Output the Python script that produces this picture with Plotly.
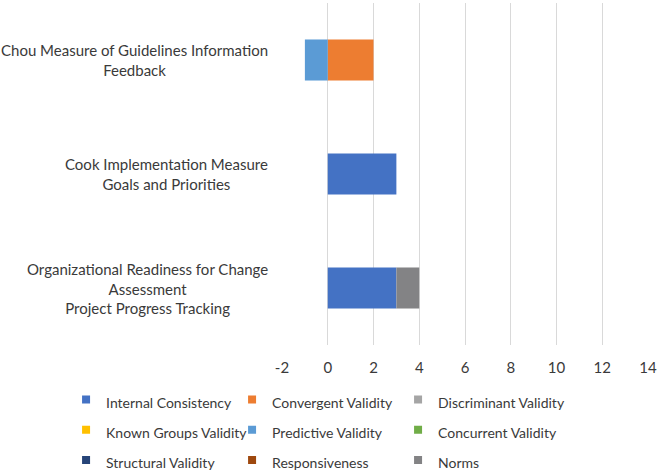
import plotly.graph_objects as go

categories = [
    "Chou Measure of Guidelines Information<br>Feedback",
    "Cook Implementation Measure<br>Goals and Priorities",
    "Organizational Readiness for Change<br>Assessment<br>Project Progress Tracking",
]
series_names = [
    "Internal Consistency", "Convergent Validity", "Discriminant Validity",
    "Known Groups Validity", "Predictive Validity", "Concurrent Validity",
    "Structural Validity", "Responsiveness", "Norms",
]
# values per series, in category order (Chou, Cook, ORCA)
internal_consistency = [0, 3, 3]
convergent_validity = [2, 0, 0]
discriminant_validity = [0, 0, 0]
known_groups_validity = [0, 0, 0]
predictive_validity = [-1, 0, 0]
concurrent_validity = [0, 0, 0]
structural_validity = [0, 0, 0]
responsiveness = [0, 0, 0]
norms = [0, 0, 1]
series_values = [
    internal_consistency, convergent_validity, discriminant_validity,
    known_groups_validity, predictive_validity, concurrent_validity,
    structural_validity, responsiveness, norms,
]
colors = ["#4472C4", "#ED7D31", "#A5A5A5", "#FFC000", "#5B9BD5",
          "#70AD47", "#264478", "#9E480E", "#838385"]
x_ticks = [-2, 0, 2, 4, 6, 8, 10, 12, 14]

FONT = "Lato"
TXT = "#3A3A3A"
fig = go.Figure()
for name, vals, col in zip(series_names, series_values, colors):
    fig.add_trace(go.Bar(
        y=categories, x=vals, name=name, orientation="h",
        marker=dict(color=col, line=dict(width=0)),
        legendgroup=name, showlegend=False,
    ))
# legend entries (small square keys)
for name, col in zip(series_names, colors):
    fig.add_trace(go.Scatter(
        x=[None], y=[None], mode="markers", legendgroup=name,
        name=f'<span style="font-size:14px">{name}</span>',
        marker=dict(symbol="square", size=8, color=col, line=dict(width=0)),
        showlegend=True, hoverinfo="skip",
    ))

for cat in categories:
    fig.add_annotation(
        x=0, xref="paper", xshift=-12, y=cat, yref="y",
        text=cat, showarrow=False, xanchor="right", yanchor="middle",
        align="center", font=dict(family=FONT, size=15, color=TXT),
    )

fig.update_layout(
    width=659, height=472,
    margin=dict(l=282, r=11, t=3, b=127, autoexpand=False),
    paper_bgcolor="white", plot_bgcolor="white",
    barmode="relative", bargap=0.64,
    showlegend=True,
    legend=dict(
        orientation="h", x=-0.549, xanchor="left", y=-0.1003, yanchor="top",
        font=dict(family=FONT, size=21, color=TXT),
        entrywidth=136, indentation=-15, traceorder="normal",
        itemclick=False, itemdoubleclick=False,
    ),
    xaxis=dict(
        range=[-2, 14], tickvals=x_ticks, ticktext=[str(v) for v in x_ticks],
        showgrid=True, gridcolor="#D9D9D9", gridwidth=1, zeroline=False,
        showline=False, ticks="", ticklabelstandoff=12,
        tickfont=dict(family=FONT, size=15, color=TXT),
    ),
    yaxis=dict(
        categoryorder="array", categoryarray=categories, autorange="reversed",
        showticklabels=False, showgrid=False, zeroline=False, showline=False,
    ),
)

fig.write_html(
    "out.html",
    config={"displayModeBar": False},
    post_script="document.body.style.margin='0';document.body.style.overflow='hidden';",
)
